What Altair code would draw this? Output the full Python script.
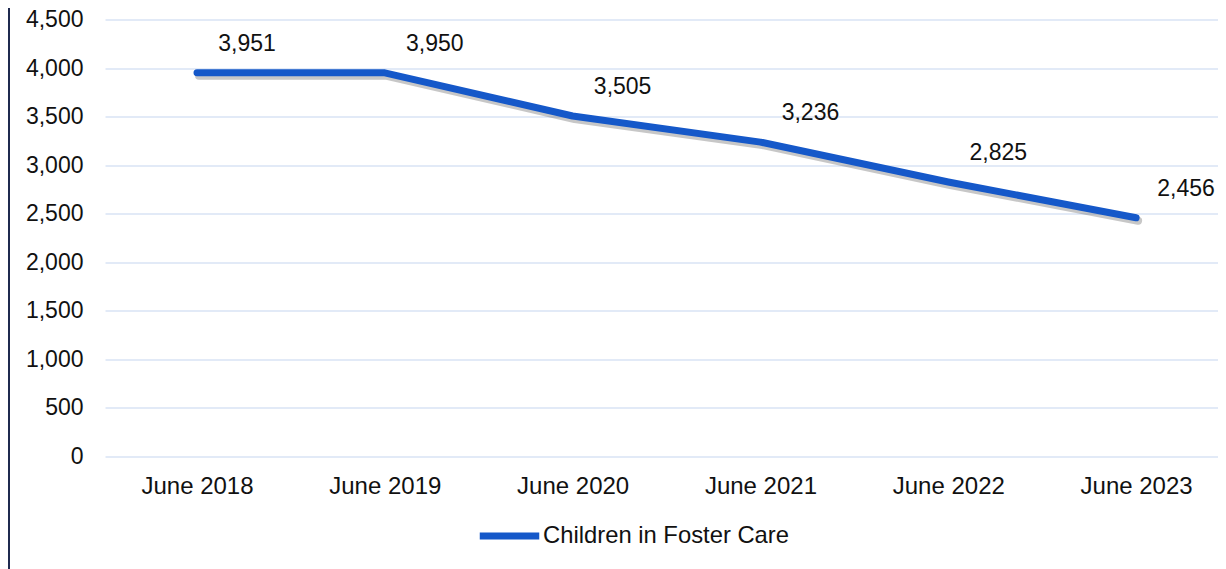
import altair as alt
import pandas as pd

years = ["June 2018", "June 2019", "June 2020", "June 2021", "June 2022", "June 2023"]
values = [3951, 3950, 3505, 3236, 2825, 2456]
series_name = "Children in Foster Care"
y_ticks = [0, 500, 1000, 1500, 2000, 2500, 3000, 3500, 4000, 4500]

df = pd.DataFrame({"year": years, "value": values, "series": [series_name] * len(years)})

FONT = "Liberation Sans"
LINE = "#1558C9"
TEXT = "#111111"

x_enc = alt.X("year:N", sort=years, scale=alt.Scale(type="point", padding=0.463, align=0.529),
              axis=alt.Axis(title=None, labelAngle=0, domain=False, ticks=False, grid=False,
                            labelPadding=18, labelFontSize=24, labelFont=FONT, labelColor=TEXT))
y_enc = alt.Y("value:Q", scale=alt.Scale(domain=[0, 4500], nice=False),
              axis=alt.Axis(title=None, values=y_ticks, format=",.0f", domain=False, ticks=False,
                            labelPadding=22, labelFontSize=23, labelFont=FONT, labelColor=TEXT,
                            grid=True, gridColor="#D9E3F4", gridWidth=1.5))

base = alt.Chart(df)

shadow = base.mark_line(strokeWidth=8, color="#444444", opacity=0.3, strokeCap="round",
                        strokeJoin="round", xOffset=2, yOffset=3).encode(x=x_enc, y=y_enc)

line = base.mark_line(strokeWidth=7, strokeCap="round", strokeJoin="round").encode(
    x=x_enc, y=y_enc,
    color=alt.Color("series:N", scale=alt.Scale(range=[LINE]),
                    legend=alt.Legend(title=None, orient="none", legendX=371, legendY=483,
                                      symbolType="stroke", symbolSize=3540, symbolStrokeWidth=7,
                                      labelFontSize=23.8, labelFont=FONT, labelColor=TEXT,
                                      labelLimit=500, labelOffset=0, padding=0)))

labels = base.mark_text(fontSize=23, font=FONT, color=TEXT, dx=50, dy=-29).encode(
    x=x_enc, y=y_enc, text=alt.Text("value:Q", format=","))

border = alt.Chart(pd.DataFrame({"a": [0]})).mark_rule(color="#1F2A4F", strokeWidth=2).encode(
    x=alt.value(-96), y=alt.value(-11.5), y2=alt.value(549.5))

chart = alt.layer(shadow, line, labels, border).properties(
    width=1113, height=436.5,
    padding={"left": 97, "top": 11.5, "right": 0, "bottom": 113},
    autosize=alt.AutoSizeParams(type="none"),
).configure_view(stroke=None)

chart.save("out.html", embed_options={"renderer": "svg", "actions": False})
